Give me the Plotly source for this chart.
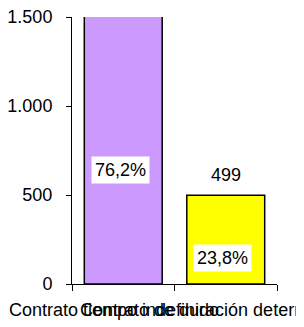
import plotly.graph_objects as go

categories = ["Contrato tiempo indefinido", "Contrato de duración determinada"]
values = [1598, 499]
percent_labels = ["76,2%", "23,8%"]
bar_colors = ["#CC99FF", "#FFFF00"]
y_tickvals = [0, 500, 1000, 1500]
y_ticktext = ["0", "500", "1.000", "1.500"]
y_max = 1500
pct_label_y = [640, 146]

FONT = "Arial, Liberation Sans, sans-serif"

fig = go.Figure()
fig.add_trace(go.Bar(
    x=categories, y=values,
    marker=dict(color=bar_colors, line=dict(color="black", width=1.5)),
    hoverinfo="skip",
))

annotations = []
for i, (cat, v, p, py) in enumerate(zip(categories, values, percent_labels, pct_label_y)):
    annotations.append(dict(
        x=i, y=0, xref="x", yref="paper", yanchor="top", xanchor="center",
        text=cat, showarrow=False, yshift=-14, xshift=-9,
        font=dict(family=FONT, size=18, color="black"),
    ))
    annotations.append(dict(
        x=i, y=py, xref="x", yref="y", text=p, showarrow=False,
        bgcolor="white", borderpad=3, xshift=-3,
        font=dict(family=FONT, size=18, color="black"),
    ))
    if v <= y_max:
        annotations.append(dict(
            x=i, y=v, xref="x", yref="y", text=str(v), showarrow=False,
            yanchor="bottom", yshift=8,
            font=dict(family=FONT, size=18, color="black"),
        ))

fig.update_layout(
    width=296, height=319,
    margin=dict(l=64, r=27, t=9, b=43, autoexpand=False),
    paper_bgcolor="white", plot_bgcolor="white",
    showlegend=False,
    bargap=0.24,
    font=dict(family=FONT, size=18, color="black"),
    annotations=annotations,
    xaxis=dict(
        type="category", categoryorder="array", categoryarray=categories,
        range=[-0.5, len(categories) - 0.5], automargin=False,
        showticklabels=False, showline=True, linecolor="black", linewidth=1,
        ticks="outside", tickson="boundaries", ticklen=6, tickcolor="black",
        showgrid=False, zeroline=False,
    ),
    yaxis=dict(
        range=[0, y_max], tickvals=y_tickvals, ticktext=y_ticktext,
        automargin=False,
        showline=True, linecolor="black", linewidth=1,
        ticks="outside", ticklen=5, tickcolor="black",
        ticklabeloverflow="allow", ticklabelstandoff=10,
        showgrid=False, zeroline=False,
        tickfont=dict(family=FONT, size=18, color="black"),
    ),
)

fig.write_html("out.html", config={"displayModeBar": False})
